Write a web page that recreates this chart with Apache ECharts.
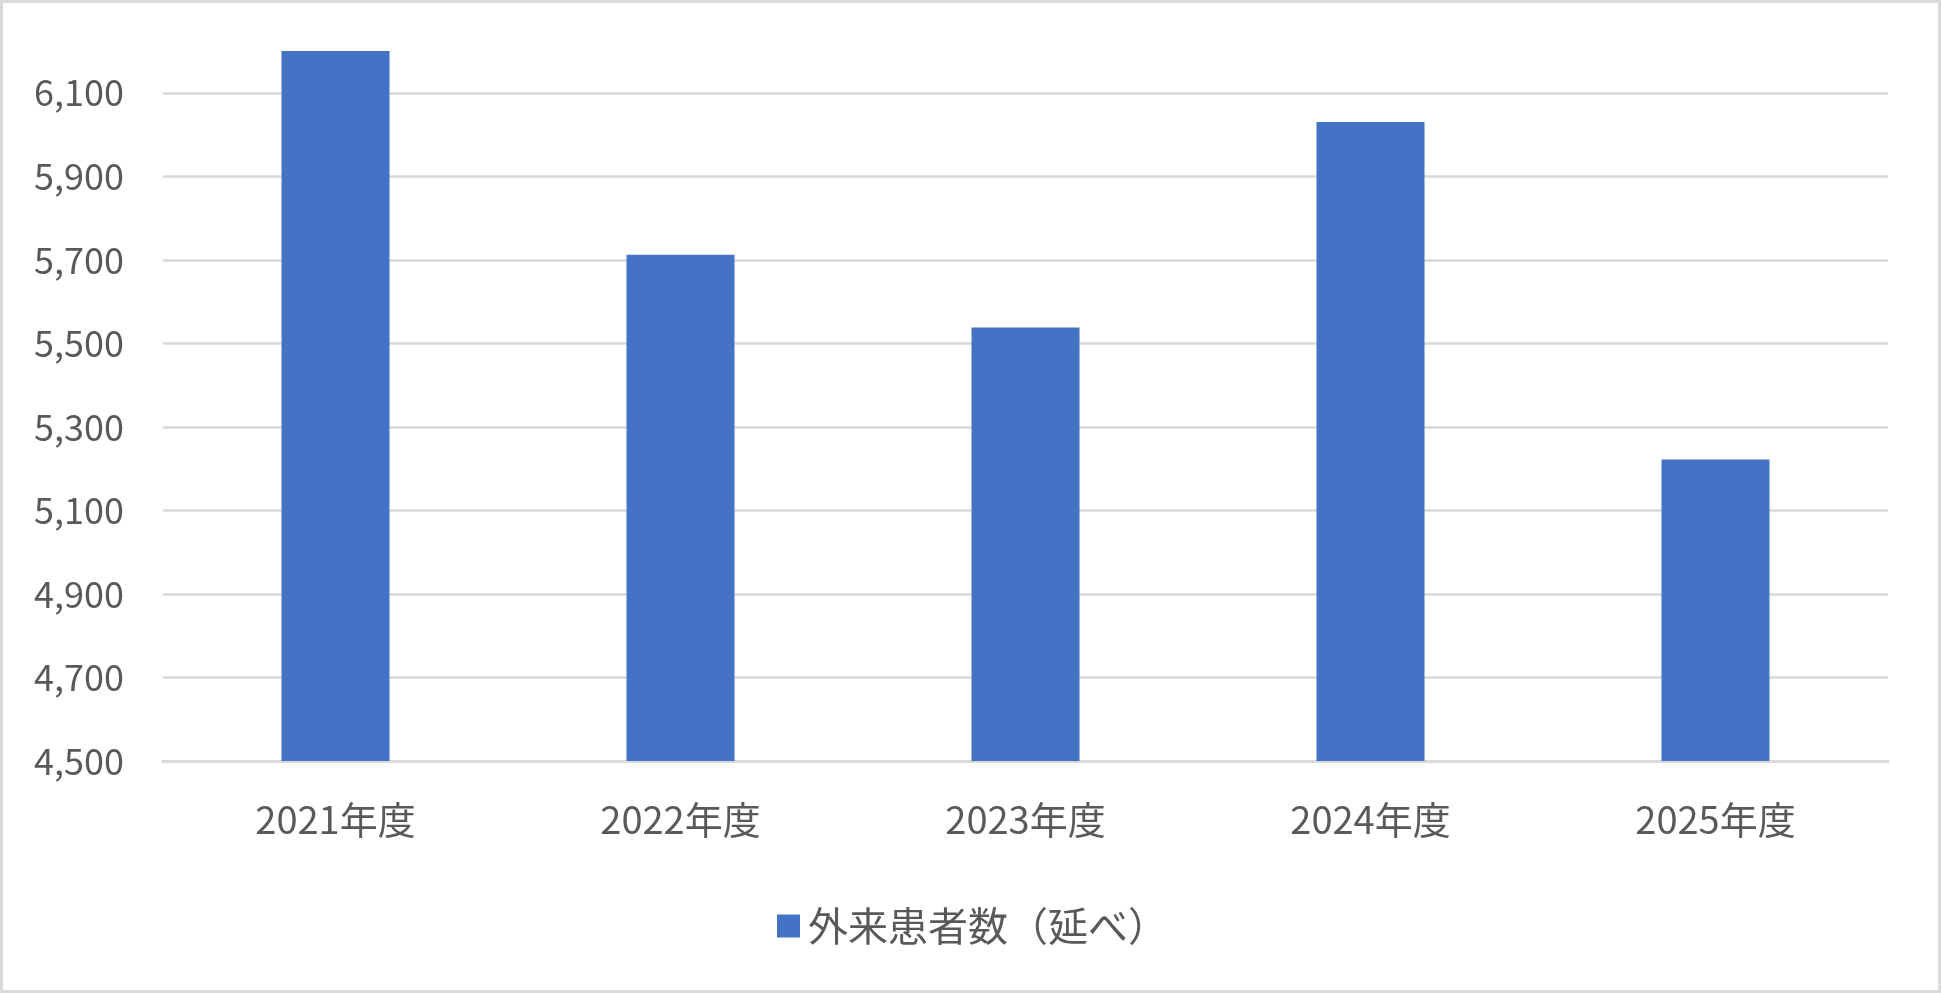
<!DOCTYPE html>
<html>
<head>
<meta charset="utf-8">
<script src="https://cdn.jsdelivr.net/npm/echarts@6/dist/echarts.min.js"></script>
<style>
html,body{margin:0;padding:0;background:#fff;}
#chart{position:absolute;left:0;top:0;width:1941px;height:993px;}
#frame{position:absolute;left:0;top:0;width:1941px;height:993px;box-sizing:border-box;border:3px solid #d9d9d9;pointer-events:none;}
</style>
</head>
<body>
<div id="chart"></div>
<div id="frame"></div>
<script>
const categories = ['2021年度', '2022年度', '2023年度', '2024年度', '2025年度'];
const seriesName = '外来患者数（延べ）';
const values = [6200, 5712, 5538, 6030, 5222];
const yMin = 4500;
const yMax = 6200;
const yInterval = 200;

const font = '"Noto Sans CJK JP", "Noto Sans", sans-serif';
const chart = echarts.init(document.getElementById('chart'));
chart.setOption({
  animation: false,
  backgroundColor: '#ffffff',
  grid: { left: 163, right: 53, top: 51, bottom: 232, containLabel: false },
  legend: {
    data: [seriesName],
    top: 901,
    left: 772,
    icon: 'rect',
    itemWidth: 23,
    itemHeight: 23,
    itemGap: 10,
    textStyle: { fontFamily: font, fontSize: 40, color: '#595959', padding: [0, 0, 0, 3] }
  },
  xAxis: {
    type: 'category',
    data: categories,
    axisLine: { show: true, lineStyle: { color: '#d9d9d9', width: 3 } },
    axisTick: { show: false },
    axisLabel: { fontFamily: font, fontSize: 38, color: '#595959', margin: 40 }
  },
  yAxis: {
    type: 'value',
    min: yMin,
    max: yMax,
    interval: yInterval,
    axisLine: { show: false },
    axisTick: { show: false },
    splitLine: { show: true, showMaxLine: false, lineStyle: { color: '#d9d9d9', width: 2.5 } },
    axisLabel: {
      fontFamily: font, fontSize: 36, color: '#595959', margin: 39, showMaxLabel: false,
      formatter: v => v.toLocaleString('en-US')
    }
  },
  series: [{
    name: seriesName,
    type: 'bar',
    data: values,
    barWidth: 108,
    itemStyle: { color: '#4472C4' }
  }]
});
</script>
</body>
</html>
